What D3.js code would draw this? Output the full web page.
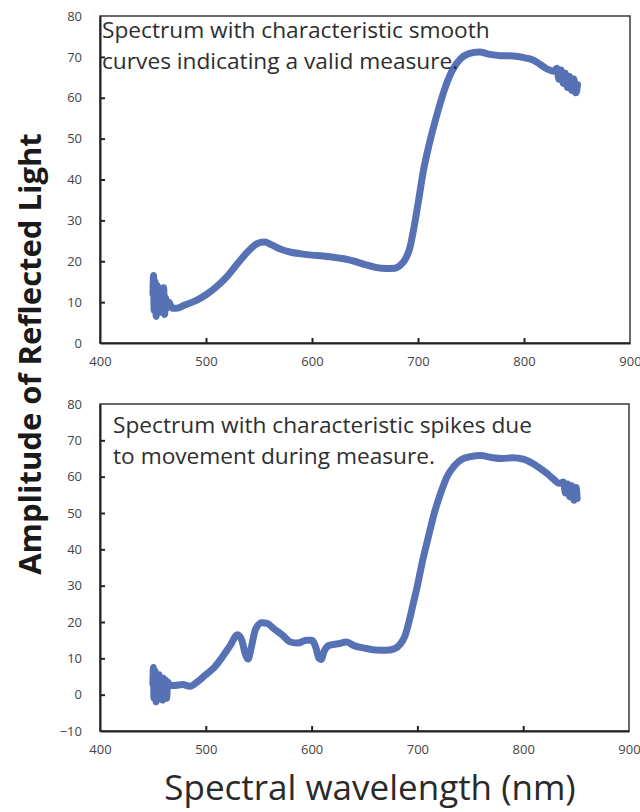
<!DOCTYPE html>
<html>
<head>
<meta charset="utf-8">
<script src="https://cdn.jsdelivr.net/npm/d3@7"></script>
<style>
  body { margin: 0; background: #fff; }
  text { font-family: "Open Sans", "Noto Sans", sans-serif; }
</style>
</head>
<body>
<svg id="chart" width="640" height="812"></svg>
<script>
// wavelength (nm) / amplitude
var topWl = [450, 450.5, 451, 452, 453, 454, 455, 456, 457, 458, 459, 460, 461, 462, 463, 465, 468, 472, 480, 490,
  500, 510, 520, 530, 540, 548, 555, 562, 570, 580, 590, 600, 610, 620, 630, 640, 650, 660, 670, 678,
  684, 688, 692, 696, 700, 705, 710, 718, 725, 732, 740, 748, 758, 768, 778, 790, 800, 808, 815, 822,
  828, 831, 833, 835, 837, 839, 841, 843, 845, 847, 849, 850.5];
var topVal = [12, 16.5, 8, 15, 6.5, 14, 9, 13, 7.5, 12, 8, 13.5, 7, 11, 8.5, 10, 8.5, 8.5, 9.3, 10.3,
  11.8, 13.8, 16.3, 19.5, 22.5, 24.3, 24.7, 24, 23, 22.2, 21.8, 21.5, 21.3, 21, 20.6, 20, 19.2, 18.5, 18.2, 18.3,
  19.2, 20.5, 23, 28, 34, 42, 48, 56, 62, 66.5, 69.5, 70.8, 71.2, 70.6, 70.3, 70.2, 69.8, 69.3, 68.2, 67,
  66.5, 67.2, 64.5, 66.8, 63.5, 66, 62.5, 65.2, 61.8, 64.6, 61.2, 63.2];

var botWl = [450, 450.5, 451, 452, 453, 454, 455, 456, 457, 458, 459, 460, 461, 462, 463, 464, 466, 470, 478, 485,
  492, 500, 508, 516, 523, 530, 534, 537, 540, 543, 547, 553, 558, 565, 572, 580, 587, 595, 600, 604,
  607, 609, 612, 616, 625, 633, 640, 650, 660, 670, 678, 684, 688, 692, 696, 700, 705, 710, 716, 722,
  728, 735, 742, 750, 760, 770, 780, 790, 800, 808, 815, 822, 828, 834, 838, 840, 842, 844, 846, 848, 850, 851];
var botVal = [3, 7.5, -1, 6.5, -2, 5, 0, 5.5, 1, 4, -1.5, 4.5, 1.5, 4, -1, 3.5, 2.5, 2.5, 2.8, 2.3,
  3.5, 5.5, 7.5, 10.5, 13.5, 16.5, 15, 11.5, 9.8, 13, 18, 19.8, 19.6, 18, 16.5, 14.5, 14.2, 15, 15, 13,
  10, 9.7, 12, 13.5, 14, 14.5, 13.5, 12.8, 12.3, 12.2, 12.6, 14, 16, 20, 25, 30, 37, 43, 50, 55.5,
  60, 63, 64.8, 65.5, 65.8, 65.3, 65, 65.2, 64.8, 63.8, 62.5, 61, 59.5, 58.2, 58.5, 55.5, 58, 54.5, 57.5, 53.5, 57, 54];

var xTicks = [400, 500, 600, 700, 800, 900];
var topYTicks = [0, 10, 20, 30, 40, 50, 60, 70, 80];
var botYTicks = [-10, 0, 10, 20, 30, 40, 50, 60, 70, 80];

var topNote = ["Spectrum with characteristic smooth", "curves indicating a valid measure."];
var botNote = ["Spectrum with characteristic spikes due", "to movement during measure."];

var svg = d3.select("#chart");
var lineColor = "#5672b4";

function panel(cfg) {
  var x = d3.scaleLinear().domain([400, 900]).range([cfg.left, cfg.right]);
  var y = d3.scaleLinear().domain(cfg.yDomain).range([cfg.bottom, cfg.top]);
  var g = svg.append("g");

  // frame
  g.append("rect")
    .attr("x", cfg.left).attr("y", cfg.top)
    .attr("width", cfg.right - cfg.left).attr("height", cfg.bottom - cfg.top)
    .attr("fill", "none").attr("stroke", "#3a3a3a").attr("stroke-width", 1.5);

  var xAxis = g.append("g")
    .attr("transform", "translate(0," + cfg.bottom + ")")
    .call(d3.axisBottom(x).tickValues(xTicks).tickSizeInner(-5).tickSizeOuter(0).tickPadding(18));
  var yAxis = g.append("g")
    .attr("transform", "translate(" + cfg.left + ",0)")
    .call(d3.axisLeft(y).tickValues(cfg.yTicks).tickSizeInner(-5).tickSizeOuter(0).tickPadding(18));

  [xAxis, yAxis].forEach(function (a) {
    a.select(".domain").attr("stroke", "#222").attr("stroke-width", 2);
    a.selectAll(".tick line").attr("stroke", "#222").attr("stroke-width", 2);
    a.selectAll(".tick text").attr("fill", "#444").style("font-size", "13px");
  });
  xAxis.selectAll(".tick text").attr("dy", "0.35em");
  // hide inward tick marks at frame corners
  xAxis.selectAll(".tick").filter(function (d) { return d === 400 || d === 900; }).select("line").remove();
  yAxis.selectAll(".tick").filter(function (d) { return d === cfg.yDomain[0] || d === cfg.yDomain[1]; }).select("line").remove();

  var pts = d3.zip(cfg.wl, cfg.val);
  g.append("path")
    .datum(pts)
    .attr("fill", "none")
    .attr("stroke", lineColor)
    .attr("stroke-width", 7)
    .attr("stroke-linejoin", "round")
    .attr("stroke-linecap", "round")
    .attr("d", d3.line().x(function (d) { return x(d[0]); }).y(function (d) { return y(d[1]); }).curve(d3.curveMonotoneX));

  g.selectAll("text.note")
    .data(cfg.note)
    .enter()
    .append("text")
    .attr("class", "note")
    .attr("x", cfg.noteX)
    .attr("y", function (d, i) { return cfg.noteY + i * cfg.noteGap; })
    .attr("fill", "#2e2e2e")
    .style("font-size", "22.7px")
    .text(function (d) { return d; });
}

panel({ left: 100, right: 630, top: 16, bottom: 343, yDomain: [0, 80], yTicks: topYTicks,
  wl: topWl, val: topVal, note: topNote, noteX: 102, noteY: 38, noteGap: 31 });
panel({ left: 100, right: 629, top: 404, bottom: 731, yDomain: [-10, 80], yTicks: botYTicks,
  wl: botWl, val: botVal, note: botNote, noteX: 113, noteY: 433, noteGap: 31 });

svg.append("text")
  .attr("transform", "translate(41,354) rotate(-90)")
  .attr("text-anchor", "middle")
  .attr("fill", "#1a1a1a")
  .style("font-size", "31px")
  .style("font-weight", "bold")
  .text("Amplitude of Reflected Light");

svg.append("text")
  .attr("x", 370)
  .attr("y", 800)
  .attr("text-anchor", "middle")
  .attr("fill", "#2a2a2a")
  .style("font-size", "35px")
  .text("Spectral wavelength (nm)");
</script>
</body>
</html>
